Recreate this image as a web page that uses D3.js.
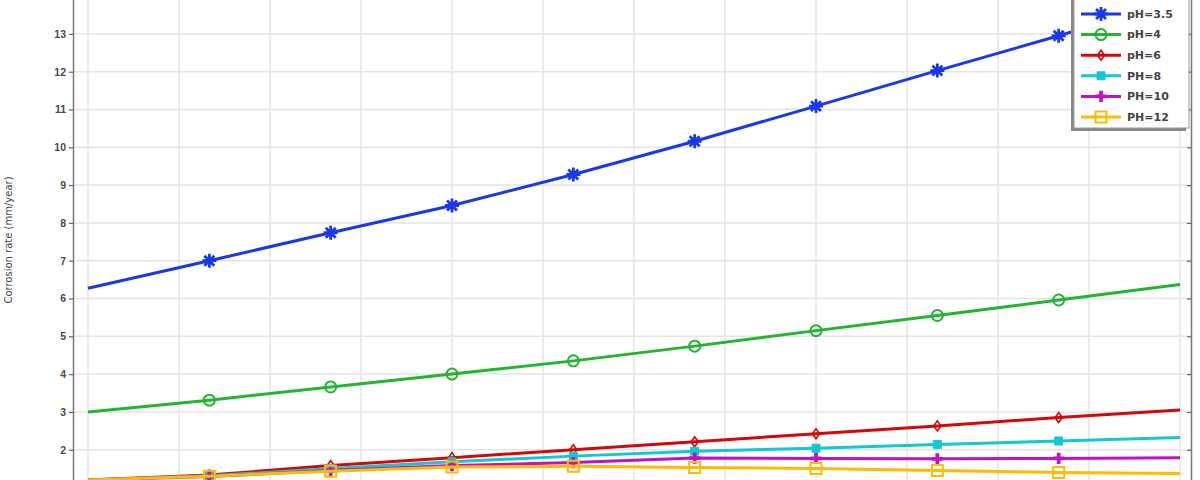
<!DOCTYPE html>
<html>
<head>
<meta charset="utf-8">
<script src="https://cdn.jsdelivr.net/npm/d3@7"></script>
<style>
  html, body { margin: 0; padding: 0; background: #fff; }
  svg { display: block; }
</style>
</head>
<body>
<div id="chart"></div>
<script>
// ---------- data ----------
const xSteps = [0, 1, 2, 3, 4, 5, 6, 7, 8, 9];
const markerSteps = [1, 2, 3, 4, 5, 6, 7, 8];
const xGrid = [0, 0.75, 1.5, 2.25, 3, 3.75, 4.5, 5.25, 6, 6.75, 7.5, 8.25, 9];
const yGrid = [1, 2, 3, 4, 5, 6, 7, 8, 9, 10, 11, 12, 13, 14];
const yTickLabels = [2, 3, 4, 5, 6, 7, 8, 9, 10, 11, 12, 13, 14];

const seriesNames = ["pH=3.5", "pH=4", "pH=6", "PH=8", "PH=10", "PH=12"];
const ph35 = [6.27, 7.00, 7.74, 8.46, 9.28, 10.16, 11.09, 12.03, 12.95, 13.90];
const ph4  = [3.00, 3.31, 3.66, 4.00, 4.35, 4.74, 5.15, 5.55, 5.96, 6.37];
const ph6  = [1.20, 1.33, 1.58, 1.79, 2.00, 2.21, 2.42, 2.63, 2.85, 3.05];
const ph8  = [1.20, 1.31, 1.50, 1.68, 1.83, 1.96, 2.04, 2.14, 2.23, 2.32];
const ph10 = [1.20, 1.29, 1.45, 1.58, 1.66, 1.78, 1.77, 1.76, 1.77, 1.79];
const ph12 = [1.20, 1.30, 1.43, 1.54, 1.56, 1.53, 1.50, 1.45, 1.40, 1.37];
const seriesValues = [ph35, ph4, ph6, ph8, ph10, ph12];
const seriesColors = ["#1838ee", "#22b530", "#d40808", "#12c8d2", "#c012c4", "#ffbb00"];
const seriesMarkers = ["asterisk", "circle", "diamond", "squareFilled", "plus", "squareOpen"];
const yLabel = "Corrosion rate (mm/year)";

// ---------- layout ----------
const W = 1200, H = 480;
const axisLeft = 73, axisRight = 1191;
const x = d3.scaleLinear().domain([0, 9]).range([88, 1180]);
const y = d3.scaleLinear().domain([1, 14]).range([487.5, -3.9]);

const svg = d3.select("#chart").append("svg")
  .attr("width", W).attr("height", H)
  .style("font-family", "'DejaVu Sans', sans-serif");

// grid
const grid = svg.append("g");
grid.selectAll("line.v").data(xGrid).enter().append("line")
  .attr("x1", d => x(d)).attr("x2", d => x(d))
  .attr("y1", -10).attr("y2", H + 10)
  .attr("stroke", "#e4e4e4").attr("stroke-width", 1.5);
grid.selectAll("line.h").data(yGrid).enter().append("line")
  .attr("x1", axisLeft).attr("x2", axisRight)
  .attr("y1", d => y(d)).attr("y2", d => y(d))
  .attr("stroke", "#e4e4e4").attr("stroke-width", 1.5);

// left axis
const yAxis = d3.axisLeft(y).tickValues(yTickLabels).tickSize(4).tickPadding(3).tickFormat(d3.format("d"));
const gy = svg.append("g").attr("transform", `translate(${axisLeft},0)`).call(yAxis);
gy.select(".domain").attr("stroke", "#777").attr("stroke-width", 1.5);
gy.selectAll(".tick line").attr("stroke", "#666").attr("stroke-width", 1.2);
gy.selectAll(".tick text").attr("fill", "#4a4a4a").style("font-size", "10.5px").style("font-weight", "bold");

// right axis
const yAxisR = d3.axisLeft(y).tickValues(yTickLabels).tickSize(4).tickFormat("");
const gyr = svg.append("g").attr("transform", `translate(${axisRight},0)`).call(yAxisR);
gyr.select(".domain").attr("stroke", "#777").attr("stroke-width", 1.5);
gyr.selectAll(".tick line").attr("stroke", "#666").attr("stroke-width", 1.2);

// y label
svg.append("text")
  .attr("transform", `translate(12,240) rotate(-90)`)
  .attr("text-anchor", "middle")
  .attr("fill", "#444")
  .style("font-size", "10px")
  .text(yLabel);

// marker paths
function markerPath(type) {
  switch (type) {
    case "asterisk": {
      const r = 7;
      let p = "";
      for (let i = 0; i < 4; i++) {
        const a = i * Math.PI / 4;
        const dx = r * Math.cos(a), dy = r * Math.sin(a);
        p += `M${-dx},${-dy}L${dx},${dy}`;
      }
      return p;
    }
    case "circle": return d3.symbol(d3.symbolCircle, 95)();
    case "diamond": return "M0,-5L3.6,0L0,5L-3.6,0Z";
    case "squareFilled": return "M-4,-4H4V4H-4Z";
    case "plus": return d3.symbol(d3.symbolCross, 70)();
    case "squareOpen": return "M-5.5,-5.5H5.5V5.5H-5.5Z";
  }
}
function styleMarker(sel, type, color) {
  sel.attr("d", markerPath(type));
  if (type === "asterisk") sel.attr("fill", "none").attr("stroke", color).attr("stroke-width", 2.8);
  else if (type === "circle") sel.attr("fill", "none").attr("stroke", color).attr("stroke-width", 2);
  else if (type === "diamond") sel.attr("fill", "none").attr("stroke", color).attr("stroke-width", 1.6);
  else if (type === "squareFilled") sel.attr("fill", color).attr("stroke", color).attr("stroke-width", 1);
  else if (type === "plus") sel.attr("fill", color).attr("stroke", "none");
  else if (type === "squareOpen") sel.attr("fill", "none").attr("stroke", color).attr("stroke-width", 2);
}

// lines + markers
const line = d3.line().x((d, i) => x(xSteps[i])).y(d => y(d));
seriesValues.forEach((vals, si) => {
  const g = svg.append("g");
  g.append("path").datum(vals)
    .attr("d", line)
    .attr("fill", "none")
    .attr("stroke", seriesColors[si])
    .attr("stroke-width", 3)
    .attr("stroke-linejoin", "round");
  g.selectAll("path.m").data(markerSteps).enter().append("path")
    .attr("class", "m")
    .attr("transform", s => `translate(${x(s)},${y(vals[xSteps.indexOf(s)])})`)
    .call(sel => styleMarker(sel, seriesMarkers[si], seriesColors[si]));
});

// legend
const lg = svg.append("g");
const lx = 1074, ly = -6, lw = 115, lh = 134;
lg.append("rect").attr("x", lx - 3).attr("y", ly + 3).attr("width", lw).attr("height", lh)
  .attr("fill", "#888");
lg.append("rect").attr("x", lx).attr("y", ly).attr("width", lw).attr("height", lh)
  .attr("fill", "#fff").attr("stroke", "#999").attr("stroke-width", 1);
const legY = d3.scalePoint().domain(seriesNames).range([14, 117]);
seriesNames.forEach((name, si) => {
  const yy = legY(name);
  lg.append("line").attr("x1", 1081).attr("x2", 1121).attr("y1", yy).attr("y2", yy)
    .attr("stroke", seriesColors[si]).attr("stroke-width", 3);
  lg.append("path").attr("transform", `translate(1101,${yy})`)
    .call(sel => styleMarker(sel, seriesMarkers[si], seriesColors[si]));
  lg.append("text").attr("x", 1127).attr("y", yy).attr("dy", "0.35em")
    .attr("fill", "#444").style("font-size", "11px").style("font-weight", "600")
    .text(name);
});
</script>
</body>
</html>
